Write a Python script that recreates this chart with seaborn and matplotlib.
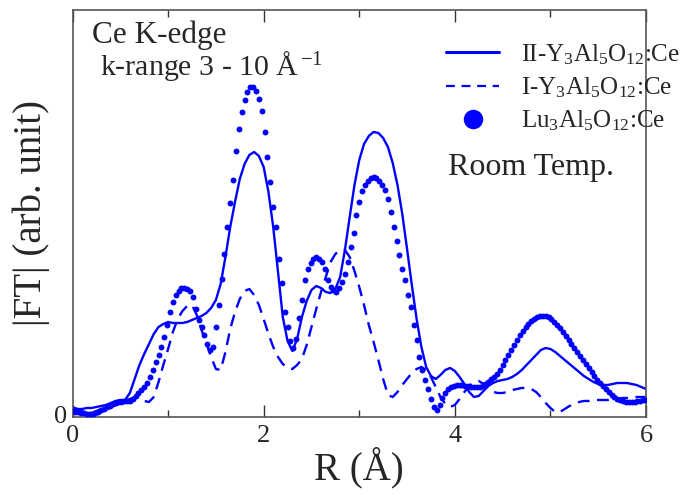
import numpy as np
import pandas as pd
import matplotlib
matplotlib.use("Agg")
import matplotlib.pyplot as plt
import seaborn as sns
from matplotlib.ticker import MultipleLocator
from matplotlib.lines import Line2D

# ---------------- data (arbitrary units) ----------------
r_line = np.round(np.arange(0, 6.001, 0.05), 2)          # R grid of the two lines (Å)
ft_II = [8, 8, 8, 9, 9, 10, 11, 12, 14, 16,
         17, 17, 24, 38, 52, 63, 73, 83, 90, 93,
         95, 94, 94, 94, 95, 97, 99, 101, 104, 109,
         117, 133, 160, 190, 215, 238, 253, 262, 265, 261,
         250, 225, 190, 145, 100, 76, 66, 78, 100, 116,
         127, 131, 129, 125, 124, 128, 140, 167, 200, 232,
         257, 273, 281, 285, 284, 279, 270, 254, 232, 203,
         168, 132, 98, 70, 50, 41, 38, 42, 47, 49,
         46, 40, 33, 25, 20, 21, 26, 31, 34, 36,
         37, 38, 40, 43, 47, 52, 57, 62, 67, 69,
         68, 65, 61, 57, 53, 49, 45, 41, 38, 35,
         33, 32, 32, 33, 34, 34, 34, 33, 32, 30,
         28]
ft_I = [10, 8, 6, 4, 4, 6, 8, 9, 10, 12,
        14, 16, 18, 20, 19, 16, 15, 20, 35, 52,
        68, 85, 98, 106, 111, 112, 102, 87, 74, 60,
        48, 47, 65, 88, 105, 118, 126, 128, 122, 112,
        98, 83, 70, 60, 53, 49, 48, 52, 58, 72,
        90, 108, 125, 140, 155, 163, 167, 167, 160, 146,
        130, 112, 92, 75, 57, 38, 22, 20, 25, 32,
        38, 44, 48, 50, 47, 40, 30, 20, 13, 10,
        12, 18, 25, 31, 35, 36, 33, 29, 25, 24,
        24, 25, 27, 28, 29, 29, 28, 25, 20, 14,
        9, 5, 5, 8, 11, 13, 15, 16, 16, 17,
        17, 17, 17, 18, 18, 19, 19, 20, 20, 20,
        20]
r_dot = np.round(np.arange(0, 6.001, 0.03), 2)            # R of each dot (Å)
ft_Lu = [6, 5, 5, 4, 4, 3, 3, 3, 4, 5,
         7, 8, 10, 11, 13, 14, 15, 15, 16, 16,
         16, 18, 21, 24, 27, 30, 34, 40, 47, 55,
         62, 70, 80, 92, 105, 115, 122, 126, 129, 129,
         128, 126, 120, 108, 97, 90, 82, 73, 67, 70,
         90, 112, 138, 163, 190, 214, 237, 266, 288, 305,
         317, 325, 330, 330, 326, 318, 306, 285, 260, 235,
         210, 190, 158, 134, 105, 90, 76, 69, 78, 99,
         117, 137, 148, 154, 158, 160, 158, 155, 148, 137,
         130, 127, 125, 129, 135, 143, 155, 170, 184, 202,
         215, 226, 232, 236, 239, 240, 239, 236, 232, 227,
         218, 205, 190, 176, 162, 148, 137, 122, 110, 92,
         77, 60, 47, 37, 28, 18, 10, 7, 12, 19,
         24, 28, 30, 31, 32, 32, 32, 31, 31, 30,
         30, 30, 30, 31, 33, 35, 38, 40, 43, 47,
         52, 57, 62, 67, 72, 77, 82, 86, 90, 93,
         96, 98, 100, 101, 101, 101, 100, 98, 95, 92,
         89, 85, 81, 77, 73, 69, 65, 61, 57, 53,
         49, 45, 41, 37, 34, 31, 28, 25, 22, 20,
         18, 17, 16, 15, 15, 15, 15, 16, 16, 17,
         17]

labels = [r"II-Y$_3$Al$_5$O$_{12}$:Ce", r"I-Y$_3$Al$_5$O$_{12}$:Ce", r"Lu$_3$Al$_5$O$_{12}$:Ce"]
x_ticks = [0, 2, 4, 6]
y_zero = 2

# ---------------- style ----------------
sns.set_style("ticks")
plt.rcParams["font.family"] = ["Liberation Serif", "DejaVu Serif"]
plt.rcParams["mathtext.fontset"] = "custom"
plt.rcParams["mathtext.rm"] = "Liberation Serif"
plt.rcParams["mathtext.it"] = "Liberation Serif:italic"
plt.rcParams["mathtext.bf"] = "Liberation Serif:bold"

blue = "#0000ff"
df_II = pd.DataFrame({"R": r_line, "FT": ft_II})
df_I = pd.DataFrame({"R": r_line, "FT": ft_I})
df_Lu = pd.DataFrame({"R": r_dot, "FT": ft_Lu})

fig = plt.figure(figsize=(6.86, 4.95), dpi=100)
ax = fig.add_axes([0.1057, 0.1576, 0.8360, 0.8222])

sns.lineplot(data=df_II, x="R", y="FT", ax=ax, color=blue, lw=1.7, estimator=None, sort=False)
sns.lineplot(data=df_I, x="R", y="FT", ax=ax, color=blue, lw=1.7, estimator=None, sort=False,
             dashes=False)
ax.lines[-1].set_dashes([5, 3.2])
sns.scatterplot(data=df_Lu, x="R", y="FT", ax=ax, color=blue, s=18, linewidth=0, zorder=3)

ax.set_xlim(0, 6)
ax.set_ylim(0, 407)
ax.set_xticks(x_ticks)
ax.xaxis.set_minor_locator(MultipleLocator(1))
ax.set_yticks([y_zero])
ax.set_yticklabels(["0"])
ax.tick_params(axis="x", which="major", direction="in", length=8.5, width=1, top=True,
               labelsize=19, pad=6, color="#333333")
ax.tick_params(axis="x", which="minor", direction="in", length=5, width=1, top=True,
               color="#333333")
ax.tick_params(axis="y", which="both", length=0, labelsize=19, pad=4)
for s in ax.spines.values():
    s.set_linewidth(1.2)
    s.set_color("#555555")

ax.set_xlabel("R (Å)", fontsize=28, labelpad=0)
ax.set_ylabel("|FT| (arb. unit)", fontsize=28, labelpad=3)

ax.text(0.034, 0.92, "Ce K-edge", transform=ax.transAxes, fontsize=22.5, va="baseline", ha="left")
ax.text(0.048, 0.84, r"k-range 3 - 10 Å$^{\,\mathrm{-1}}$", transform=ax.transAxes, fontsize=21.5,
        va="baseline", ha="left")
ax.text(0.655, 0.595, "Room Temp.", transform=ax.transAxes, fontsize=23, va="baseline", ha="left")

h1 = Line2D([], [], color=blue, lw=2.2)
h2 = Line2D([], [], color=blue, lw=1.6, dashes=[4, 3])
h3 = Line2D([], [], color=blue, lw=0, marker="o", markersize=13)
leg = ax.legend([h1, h2, h3], labels, loc="upper left", bbox_to_anchor=(0.652, 0.921),
                frameon=False, fontsize=18, handlelength=2.1, handletextpad=0.9,
                labelspacing=0.35, borderaxespad=0, borderpad=0)

fig.savefig("out.png", dpi=100)
